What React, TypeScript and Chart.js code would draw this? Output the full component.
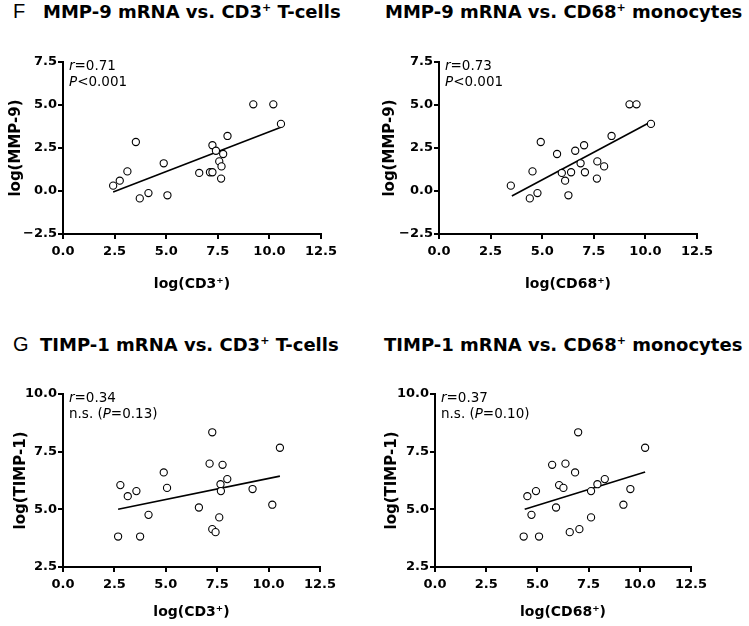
import React, { useEffect, useRef } from 'react';
import { Chart, registerables } from 'chart.js';

Chart.register(...registerables);

// ---------- DATA ----------
// Panel F, left: MMP-9 vs CD3+
const mmpCd3X = [2.43, 2.75, 3.12, 3.53, 3.72, 4.14, 4.88, 5.06, 6.60, 7.12, 7.24, 7.24, 7.41, 7.57, 7.68, 7.66, 7.76, 7.97, 9.22, 10.19, 10.56];
const mmpCd3Y = [0.31, 0.60, 1.14, 2.85, -0.43, -0.12, 1.61, -0.25, 1.05, 1.09, 1.09, 2.66, 2.34, 1.72, 1.43, 0.72, 2.15, 3.20, 5.04, 5.04, 3.90];
const mmpCd3FitX = [2.43, 10.56];
const mmpCd3FitY = [-0.06, 3.70];

// Panel F, right: MMP-9 vs CD68+
const mmpCd68X = [3.48, 4.40, 4.53, 4.77, 4.93, 5.72, 5.95, 6.11, 6.27, 6.40, 6.60, 6.86, 7.03, 7.07, 7.65, 7.67, 8.00, 8.36, 9.23, 9.57, 10.27];
const mmpCd68Y = [0.31, -0.43, 1.14, -0.12, 2.85, 2.15, 1.05, 0.60, -0.25, 1.09, 2.34, 1.61, 2.66, 1.09, 0.72, 1.72, 1.43, 3.20, 5.04, 5.04, 3.90];
const mmpCd68FitX = [3.53, 10.25];
const mmpCd68FitY = [-0.29, 4.01];

// Panel G, left: TIMP-1 vs CD3+
const timpCd3X = [2.68, 2.79, 3.15, 3.57, 3.75, 4.16, 4.90, 5.06, 6.61, 7.13, 7.26, 7.26, 7.42, 7.60, 7.66, 7.68, 7.76, 7.99, 9.22, 10.18, 10.55];
const timpCd3Y = [3.82, 6.05, 5.57, 5.79, 3.82, 4.76, 6.60, 5.93, 5.08, 6.98, 8.34, 4.14, 4.01, 4.65, 6.09, 5.79, 6.93, 6.31, 5.88, 5.20, 7.67];
const timpCd3FitX = [2.68, 10.55];
const timpCd3FitY = [5.00, 6.44];

// Panel G, right: TIMP-1 vs CD68+
const timpCd68X = [4.33, 4.51, 4.71, 4.93, 5.08, 5.72, 5.91, 6.06, 6.27, 6.37, 6.58, 6.84, 6.99, 7.05, 7.62, 7.62, 7.93, 8.29, 9.20, 9.54, 10.26];
const timpCd68Y = [3.82, 5.57, 4.76, 5.79, 3.82, 6.93, 5.08, 6.05, 5.93, 6.98, 4.01, 6.60, 8.34, 4.14, 5.79, 4.65, 6.09, 6.31, 5.20, 5.88, 7.67];
const timpCd68FitX = [4.38, 10.26];
const timpCd68FitY = [5.00, 6.62];

const xTicksRange = [0, 12.5];
const mmpYRange = [-2.5, 7.5];
const timpYRange = [2.5, 10];

const statsMmpCd3 = [[{ t: 'r', i: true }, { t: '=0.71' }], [{ t: 'P', i: true }, { t: '<0.001' }]];
const statsMmpCd68 = [[{ t: 'r', i: true }, { t: '=0.73' }], [{ t: 'P', i: true }, { t: '<0.001' }]];
const statsTimpCd3 = [[{ t: 'r', i: true }, { t: '=0.34' }], [{ t: 'n.s. (' }, { t: 'P', i: true }, { t: '=0.13)' }]];
const statsTimpCd68 = [[{ t: 'r', i: true }, { t: '=0.37' }], [{ t: 'n.s. (' }, { t: 'P', i: true }, { t: '=0.10)' }]];

// ---------- LAYOUT ----------
type Seg = { t: string; i?: boolean };
type PanelCfg = {
  box: { left: number; top: number; w: number; h: number };
  area: { l: number; r: number; t: number; b: number };
  xs: number[]; ys: number[]; fx: number[]; fy: number[];
  yRange: number[];
  xTitle: string; yTitle: string;
  stats: Seg[][];
  yTitlePad: number; xTitlePad: number;
};

const panels: PanelCfg[] = [
  {
    box: { left: 0, top: 0, w: 374, h: 310 }, area: { l: 63, r: 321, t: 62, b: 234 },
    xs: mmpCd3X, ys: mmpCd3Y, fx: mmpCd3FitX, fy: mmpCd3FitY, yRange: mmpYRange,
    xTitle: 'log(CD3\u207A)', yTitle: 'log(MMP-9)', stats: statsMmpCd3, yTitlePad: 7, xTitlePad: 17,
  },
  {
    box: { left: 375, top: 0, w: 374, h: 310 }, area: { l: 64, r: 322, t: 62, b: 234 },
    xs: mmpCd68X, ys: mmpCd68Y, fx: mmpCd68FitX, fy: mmpCd68FitY, yRange: mmpYRange,
    xTitle: 'log(CD68\u207A)', yTitle: 'log(MMP-9)', stats: statsMmpCd68, yTitlePad: 6, xTitlePad: 17,
  },
  {
    box: { left: 0, top: 310, w: 374, h: 316 }, area: { l: 63, r: 320, t: 84, b: 257 },
    xs: timpCd3X, ys: timpCd3Y, fx: timpCd3FitX, fy: timpCd3FitY, yRange: timpYRange,
    xTitle: 'log(CD3\u207A)', yTitle: 'log(TIMP-1)', stats: statsTimpCd3, yTitlePad: 12, xTitlePad: 5,
  },
  {
    box: { left: 375, top: 310, w: 374, h: 316 }, area: { l: 60, r: 316, t: 84, b: 257 },
    xs: timpCd68X, ys: timpCd68Y, fx: timpCd68FitX, fy: timpCd68FitY, yRange: timpYRange,
    xTitle: 'log(CD68\u207A)', yTitle: 'log(TIMP-1)', stats: statsTimpCd68, yTitlePad: 8, xTitlePad: 5,
  },
];

const fmt = (v: number) => (v < 0 ? '\u2212' + Math.abs(v).toFixed(1) : v.toFixed(1));
const tickFont = { family: 'DejaVu Sans', weight: 'bold' as const, size: 13 };
const axisTitleFont = { family: 'DejaVu Sans', weight: 'bold' as const, size: 14 };

function Panel({ cfg }: { cfg: PanelCfg }) {
  const ref = useRef<HTMLCanvasElement>(null);
  useEffect(() => {
    const { box, area } = cfg;
    const statsPlugin = {
      id: 'stats',
      afterDraw(chart: any) {
        const ctx = chart.ctx;
        const ca = chart.chartArea;
        ctx.save();
        ctx.fillStyle = '#000';
        ctx.textBaseline = 'alphabetic';
        cfg.stats.forEach((line, li) => {
          let x = ca.left + 6;
          const y = ca.top + 8 + li * 16;
          line.forEach((s) => {
            ctx.font = `${s.i ? 'italic ' : ''}13.5px "DejaVu Sans", sans-serif`;
            ctx.fillText(s.t, x, y);
            x += ctx.measureText(s.t).width;
          });
        });
        ctx.restore();
      },
    };
    const chart = new Chart(ref.current!, {
      type: 'scatter',
      data: {
        datasets: [
          {
            data: cfg.xs.map((x, i) => ({ x, y: cfg.ys[i] })),
            pointRadius: 3.6,
            pointBorderWidth: 1.1,
            borderColor: '#000',
            backgroundColor: '#fff',
            pointStyle: 'circle',
          },
          {
            data: cfg.fx.map((x, i) => ({ x, y: cfg.fy[i] })),
            showLine: true,
            pointRadius: 0,
            borderColor: '#000',
            borderWidth: 1.6,
            backgroundColor: '#000',
          },
        ],
      },
      options: {
        responsive: false,
        animation: false,
        events: [],
        layout: { padding: { left: 0, top: area.t, right: box.w - area.r, bottom: 0 } },
        plugins: { legend: { display: false }, tooltip: { enabled: false } },
        scales: {
          x: {
            type: 'linear',
            min: xTicksRange[0],
            max: xTicksRange[1],
            afterFit: (s: any) => { s.height = box.h - area.b; },
            ticks: { stepSize: 2.5, callback: (v: any) => fmt(Number(v)), font: tickFont, color: '#000', padding: 5, maxRotation: 0, autoSkip: false },
            grid: { drawOnChartArea: false, drawTicks: true, tickLength: 5, color: '#000', lineWidth: 2 },
            border: { color: '#000', width: 2 },
            title: { display: true, text: cfg.xTitle, font: axisTitleFont, color: '#000', padding: { top: 0, bottom: cfg.xTitlePad } },
          },
          y: {
            type: 'linear',
            min: cfg.yRange[0],
            max: cfg.yRange[1],
            afterFit: (s: any) => { s.width = area.l; },
            ticks: { stepSize: 2.5, callback: (v: any) => fmt(Number(v)), font: tickFont, color: '#000', padding: 1 },
            grid: { drawOnChartArea: false, drawTicks: true, tickLength: 5, color: '#000', lineWidth: 2 },
            border: { color: '#000', width: 2 },
            title: { display: true, text: cfg.yTitle, font: { ...axisTitleFont, size: 15 }, color: '#000', padding: { top: cfg.yTitlePad, bottom: 0 } },
          },
        },
      },
      plugins: [statsPlugin],
    } as any);
    return () => chart.destroy();
  }, [cfg]);
  const { box } = cfg;
  return (
    <canvas
      ref={ref}
      width={box.w}
      height={box.h}
      style={{ position: 'absolute', left: box.left, top: box.top, width: box.w, height: box.h }}
    />
  );
}

const titleStyle: React.CSSProperties = {
  position: 'absolute',
  fontFamily: '"DejaVu Sans", sans-serif',
  fontWeight: 'bold',
  fontSize: 18,
  lineHeight: '18px',
  whiteSpace: 'nowrap',
  color: '#000',
};
const letterStyle: React.CSSProperties = {
  position: 'absolute',
  fontFamily: '"Liberation Sans", Arial, sans-serif',
  fontSize: 20,
  lineHeight: '20px',
  color: '#000',
};
const supStyle: React.CSSProperties = { fontSize: 11, position: 'relative', top: -7 };

export default function App() {
  return (
    <div style={{ position: 'absolute', left: 0, top: 0, width: 749, height: 626, background: '#fff', overflow: 'hidden' }}>
      <div style={{ ...letterStyle, left: 13, top: 1 }}>F</div>
      <div style={{ ...titleStyle, left: 43, top: 3 }}>MMP-9 mRNA vs. CD3<span style={supStyle}>+</span> T-cells</div>
      <div style={{ ...titleStyle, left: 385, top: 3 }}>MMP-9 mRNA vs. CD68<span style={supStyle}>+</span> monocytes</div>
      <div style={{ ...letterStyle, left: 13, top: 334 }}>G</div>
      <div style={{ ...titleStyle, left: 40, top: 336 }}>TIMP-1 mRNA vs. CD3<span style={supStyle}>+</span> T-cells</div>
      <div style={{ ...titleStyle, left: 384, top: 336 }}>TIMP-1 mRNA vs. CD68<span style={supStyle}>+</span> monocytes</div>
      {panels.map((p, i) => (
        <Panel key={i} cfg={p} />
      ))}
    </div>
  );
}
